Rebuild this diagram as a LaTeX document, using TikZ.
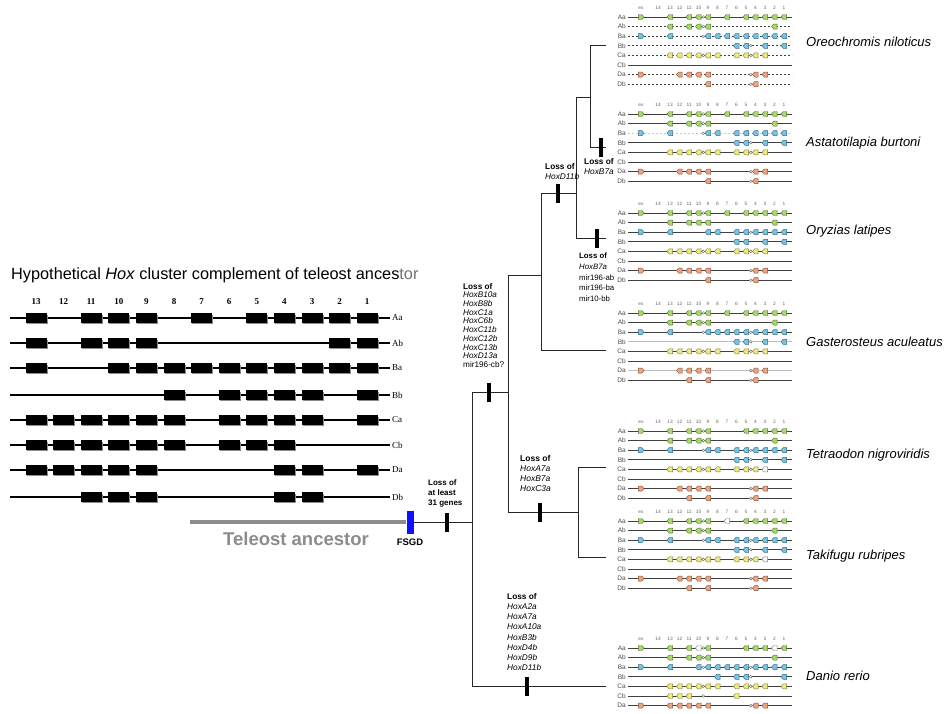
\documentclass[tikz,border=0pt]{standalone}
\usepackage{fontspec}
\setmainfont{Liberation Sans}
\newfontfamily\serifbox{Liberation Serif}
\usetikzlibrary{positioning}

\definecolor{hoxA}{HTML}{A6D86A}
\definecolor{hoxB}{HTML}{74C4E6}
\definecolor{hoxC}{HTML}{EEEA7C}
\definecolor{hoxD}{HTML}{EFA27E}
\definecolor{fsgdblue}{HTML}{1010FF}

\tikzset{
  tree/.style={draw=black!85, line width=0.9pt},
  lossbar/.style={fill=black, minimum width=4.6pt, minimum height=19pt, inner sep=0pt},
  losslab/.style={align=left, anchor=north west, inner sep=0pt, font=\fontsize{8.5}{10}\selectfont},
  species/.style={anchor=west, inner sep=0pt, font=\fontsize{13}{15}\selectfont\itshape},
  ancnum/.style={inner sep=0pt, font=\serifbox\bfseries\fontsize{9}{10}\selectfont},
  anclab/.style={anchor=west, inner sep=0pt, font=\serifbox\fontsize{9}{10}\selectfont},
  ancline/.style={draw=black, line width=1.1pt},
  rowlab/.style={anchor=east, inner sep=0pt, text=black!70, font=\fontsize{6.5}{7}\selectfont},
  colnum/.style={inner sep=0pt, text=black!60, font=\fontsize{4.8}{5}\selectfont},
  hoxline/.style={draw=black!75, line width=0.7pt},
  hoxdash/.style={hoxline, dash pattern=on 2.4pt off 1.6pt},
  hoxfaint/.style={draw=black!25, line width=0.7pt},
  hoxpale/.style={draw=hoxB!70, line width=0.7pt, dash pattern=on 2.4pt off 1.6pt}
}

\pgfmathdeclarefunction{colx}{1}{\pgfmathparse{(#1>14.5) ? 641 : ((#1>13.5) ? 658 : 670+(13-#1)*9.5)}}
\pgfmathdeclarefunction{ancx}{1}{\pgfmathparse{36+(13-#1)*27.6}}

% column numbers of one species panel
\newcommand{\hoxnums}[1]{\def\pbase{#1}%
  \foreach \c/\t in {15/ex,14/14,13/13,12/12,11/11,10/10,9/9,8/8,7/7,6/6,5/5,4/4,3/3,2/2,1/1}
    \node[colnum] at ({colx(\c)},{#1-9}) {\t};}

% gene arrow (exon 'ex' points the other way)
\newcommand{\hoxgene}[4]{% x, y, fill, draw
  \pgfmathsetmacro\gd{(#1>14.5) ? -1 : 1}%
  \pgfmathsetmacro\gx{colx(#1)}%
  \filldraw[fill=#3, draw=#4, line width=0.45pt] (\gx-3*\gd,#2) -- (\gx-0.9*\gd,#2-2.5) -- (\gx+2.6*\gd,#2-2.5) -- (\gx+2.6*\gd,#2+2.5) -- (\gx-0.9*\gd,#2+2.5) -- cycle;}

% one cluster row: index, label, line style, colour, genes, microRNAs
\newcommand{\hoxrow}[6]{%
  \pgfmathsetmacro\ry{\pbase+#1*9.6}%
  \node[rowlab] at (626,\ry) {#2};
  \draw[#3] (628,\ry) -- (792,\ry);
  \def\hoxlist{#5}\ifx\hoxlist\empty\else
    \foreach \g in {#5}{\hoxgene{\g}{\ry}{#4}{#4!55!black}}%
  \fi
  \def\hoxlist{#6}\ifx\hoxlist\empty\else
    \foreach \m in {#6}{\pgfmathsetmacro\mx{colx(\m)}%
      \filldraw[fill=white, draw=black!60, line width=0.4pt] (\mx,\ry) circle (1.4pt);}%
  \fi}

% lost genes drawn white
\newcommand{\hoxlost}[2]{%
  \pgfmathsetmacro\ry{\pbase+#1*9.6}%
  \foreach \g in {#2}{\hoxgene{\g}{\ry}{white}{black!50}}}

% ancestral cluster row: y, label, genes
\newcommand{\ancrow}[3]{%
  \draw[ancline] (10,#1) -- (390,#1);
  \node[anclab] (anc#2) at (392,#1) {#2};
  \foreach \g in {#3}{\pgfmathsetmacro\bx{ancx(\g)}%
    \fill[black!45] (\bx-9.5,#1-3.5) rectangle (\bx+11.5,#1+6);
    \fill[black] (\bx-10.5,#1-5) rectangle (\bx+10.5,#1+5);}}

\begin{document}
\begin{tikzpicture}[x=1pt,y=-1pt]
\useasboundingbox (0,0) rectangle (945,713);
\fill[white] (0,0) rectangle (945,713);

% ancestral complement
\node[anchor=west, inner sep=0pt, font=\fontsize{16.3}{18}\selectfont] (title) at (11,275)
  {Hypothetical \textit{Hox} cluster complement of teleost ances\textcolor{black!55}{tor}};
\foreach \g in {1,...,13} \node[ancnum] (num\g) at ({ancx(\g)},302) {\g};
\ancrow{318}{Aa}{13,11,10,9,7,5,4,3,2,1}
\ancrow{343}{Ab}{13,11,10,9,2,1}
\ancrow{368}{Ba}{13,10,9,8,7,6,5,4,3,2,1}
\ancrow{395}{Bb}{8,6,5,4,3,1}
\ancrow{420}{Ca}{13,12,11,10,9,8,6,5,4,3,1}
\ancrow{445}{Cb}{13,12,11,10,9,8,6,5,4}
\ancrow{470}{Da}{13,12,11,10,9,4,3,1}
\ancrow{497}{Db}{11,10,9,4,3}

% teleost stem
\coordinate (anc) at (190,522);
\node[fill=fsgdblue, minimum width=7pt, minimum height=23pt, inner sep=0pt] (fsgd) at (410,522) {};
\draw[draw=black!45, line width=4.5pt] (anc) -- (fsgd.west);
\node[text=black!45, font=\bfseries\fontsize{18.5}{20}\selectfont] (tel) at (296,539) {Teleost ancestor};
\node[below=5pt of fsgd, inner sep=0pt, font=\bfseries\fontsize{9.5}{10}\selectfont] (fsgdlab) {FSGD};

% tree
\coordinate (root) at (472,522);
\coordinate (rootT) at (472,392);
\coordinate (rootB) at (472,686);
\coordinate (perc) at (508,392);
\coordinate (percT) at (508,275);
\coordinate (percB) at (508,512);
\coordinate (smeg) at (541,275);
\coordinate (smegT) at (541,193);
\coordinate (smegB) at (541,350);
\coordinate (atho) at (576,193);
\coordinate (athoT) at (576,97);
\coordinate (athoB) at (576,238);
\coordinate (cich) at (590,97);
\coordinate (cichT) at (590,45);
\coordinate (cichB) at (590,147);
\coordinate (tetr) at (578,512);
\coordinate (tetrT) at (578,467);
\coordinate (tetrB) at (578,557);
\coordinate (leafOn) at (606,45);
\coordinate (leafAb) at (606,147);
\coordinate (leafOl) at (606,238);
\coordinate (leafGa) at (606,350);
\coordinate (leafTn) at (606,467);
\coordinate (leafTr) at (606,557);
\coordinate (leafDr) at (606,686);

\draw[tree] (fsgd.east) -- (root);
\draw[tree] (rootT) -- (rootB);
\draw[tree] (rootT) -- (perc);
\draw[tree] (rootB) -- (leafDr);
\draw[tree] (percT) -- (percB);
\draw[tree] (percT) -- (smeg);
\draw[tree] (percB) -- (tetr);
\draw[tree] (smegT) -- (smegB);
\draw[tree] (smegT) -- (atho);
\draw[tree] (smegB) -- (leafGa);
\draw[tree] (athoT) -- (athoB);
\draw[tree] (athoT) -- (cich);
\draw[tree] (athoB) -- (leafOl);
\draw[tree] (cichT) -- (cichB);
\draw[tree] (cichT) -- (leafOn);
\draw[tree] (cichB) -- (leafAb);
\draw[tree] (tetrT) -- (tetrB);
\draw[tree] (tetrT) -- (leafTn);
\draw[tree] (tetrB) -- (leafTr);

% gene losses
\node[lossbar] (bar31) at (447,522) {};
\node[lossbar] (barPerc) at (489,392) {};
\node[lossbar] (barDr) at (527,686) {};
\node[lossbar] (barTetr) at (540,512) {};
\node[lossbar] (barSmeg) at (558,193) {};
\node[lossbar] (barAb) at (601,147) {};
\node[lossbar] (barOl) at (597,238) {};

\node[losslab, font=\bfseries\fontsize{8}{10}\selectfont] (loss31) at (428,479) {Loss of\\at least\\31 genes};
\node[losslab, font=\fontsize{8.2}{8.7}\selectfont] (lossPerc) at (463,283)
  {\textbf{Loss of}\\\textit{HoxB10a}\\\textit{HoxB8b}\\\textit{HoxC1a}\\\textit{HoxC6b}\\\textit{HoxC11b}\\\textit{HoxC12b}\\\textit{HoxC13b}\\\textit{HoxD13a}\\mir196-cb?};
\node[losslab] (lossTetr) at (520,455) {\textbf{Loss of}\\\textit{HoxA7a}\\\textit{HoxB7a}\\\textit{HoxC3a}};
\node[losslab, font=\fontsize{8.3}{10.2}\selectfont] (lossDr) at (507,593)
  {\textbf{Loss of}\\\textit{HoxA2a}\\\textit{HoxA7a}\\\textit{HoxA10a}\\\textit{HoxB3b}\\\textit{HoxD4b}\\\textit{HoxD9b}\\\textit{HoxD11b}};
\node[losslab, font=\fontsize{8.3}{10.5}\selectfont] (lossSmeg) at (545,163) {\textbf{Loss of}\\\textit{HoxD11b}};
\node[losslab, font=\fontsize{8.3}{10.5}\selectfont] (lossAb) at (584,158) {\textbf{Loss of}\\\textit{HoxB7a}};
\node[losslab, font=\fontsize{7.8}{10.7}\selectfont] (lossOl) at (579,253)
  {\textbf{Loss of}\\\textit{HoxB7a}\\mir196-ab\\mir196-ba\\mir10-bb};

% species
\node[species] (spOn) at (806,42) {Oreochromis niloticus};
\node[species] (spAb) at (806,143) {Astatotilapia burtoni};
\node[species] (spOl) at (806,231) {Oryzias latipes};
\node[species] (spGa) at (806,342) {Gasterosteus aculeatus};
\node[species] (spTn) at (806,455) {Tetraodon nigroviridis};
\node[species] (spTr) at (806,556) {Takifugu rubripes};
\node[species] (spDr) at (806,676) {Danio rerio};

% Oreochromis niloticus
\hoxnums{17}
\hoxrow{0}{Aa}{hoxline}{hoxA}{15,13,11,10,9,7,5,4,3,2,1}{9.5}
\hoxrow{1}{Ab}{hoxdash}{hoxA}{13,11,10,9,2}{9.5}
\hoxrow{2}{Ba}{hoxdash}{hoxB}{15,13,9,8,7,6,5,4,3,2,1}{9.5}
\hoxrow{3}{Bb}{hoxdash}{hoxB}{6,5,3,1}{4.5}
\hoxrow{4}{Ca}{hoxdash}{hoxC}{13,12,11,10,9,8,6,5,4,3}{9.5,4.5}
\hoxrow{5}{Cb}{hoxline}{hoxC}{}{}
\hoxrow{6}{Da}{hoxdash}{hoxD}{15,12,11,10,9,4,3}{4.5}
\hoxrow{7}{Db}{hoxdash}{hoxD}{9,4}{4.5}

% Astatotilapia burtoni
\hoxnums{114}
\hoxrow{0}{Aa}{hoxline}{hoxA}{15,13,11,10,9,7,5,4,3,2,1}{9.5}
\hoxrow{1}{Ab}{hoxline}{hoxA}{13,11,10,9,2}{9.5}
\hoxrow{2}{Ba}{hoxpale}{hoxB}{15,13,9,8,6,5,4,3,2,1}{9.5}
\hoxrow{3}{Bb}{hoxline}{hoxB}{6,5,3,1}{4.5}
\hoxrow{4}{Ca}{hoxline}{hoxC}{13,12,11,10,9,8,6,5,4,3}{9.5,4.5}
\hoxrow{5}{Cb}{hoxline}{hoxC}{}{}
\hoxrow{6}{Da}{hoxline}{hoxD}{15,12,11,10,9,4,3}{4.5}
\hoxrow{7}{Db}{hoxline}{hoxD}{9,4}{4.5}

% Oryzias latipes
\hoxnums{213}
\hoxrow{0}{Aa}{hoxline}{hoxA}{15,13,11,10,9,7,5,4,3,2,1}{9.5}
\hoxrow{1}{Ab}{hoxline}{hoxA}{13,11,10,9,2}{}
\hoxrow{2}{Ba}{hoxline}{hoxB}{15,13,9,8,6,5,4,3,2,1}{4.5}
\hoxrow{3}{Bb}{hoxline}{hoxB}{6,5,3,1}{}
\hoxrow{4}{Ca}{hoxline}{hoxC}{13,12,11,10,9,8,6,5,4,3}{9.5,4.5}
\hoxrow{5}{Cb}{hoxline}{hoxC}{}{}
\hoxrow{6}{Da}{hoxline}{hoxD}{15,12,11,10,9,4,3}{4.5}
\hoxrow{7}{Db}{hoxline}{hoxD}{9,4}{4.5}

% Gasterosteus aculeatus
\hoxnums{313}
\hoxrow{0}{Aa}{hoxline}{hoxA}{15,13,11,10,9,7,5,4,3,2,1}{9.5}
\hoxrow{1}{Ab}{hoxline}{hoxA}{13,11,10,9,2}{9.5}
\hoxrow{2}{Ba}{hoxline}{hoxB}{15,13,9,8,7,6,5,4,3,2,1}{9.5,4.5}
\hoxrow{3}{Bb}{hoxfaint}{hoxB}{6,5,3,1}{4.5}
\hoxrow{4}{Ca}{hoxline}{hoxC}{13,12,11,10,9,8,6,5,4,3}{9.5,4.5}
\hoxrow{5}{Cb}{hoxline}{hoxC}{}{}
\hoxrow{6}{Da}{hoxfaint}{hoxD}{15,12,11,10,9,4,3}{4.5}
\hoxrow{7}{Db}{hoxline}{hoxD}{11,9,4}{4.5}

% Tetraodon nigroviridis
\hoxnums{431}
\hoxrow{0}{Aa}{hoxline}{hoxA}{15,13,11,10,9,5,4,3,2,1}{9.5}
\hoxrow{1}{Ab}{hoxline}{hoxA}{13,11,10,9,2}{9.5}
\hoxrow{2}{Ba}{hoxline}{hoxB}{15,13,9,8,6,5,4,3,2,1}{9.5,4.5}
\hoxrow{3}{Bb}{hoxline}{hoxB}{6,5,3,1}{4.5}
\hoxrow{4}{Ca}{hoxline}{hoxC}{13,12,11,10,9,8,6,5,4}{9.5,4.5}
\hoxlost{4}{3}
\hoxrow{5}{Cb}{hoxline}{hoxC}{}{}
\hoxrow{6}{Da}{hoxline}{hoxD}{15,12,11,10,9,4,3}{4.5}
\hoxrow{7}{Db}{hoxline}{hoxD}{11,9,4}{4.5}

% Takifugu rubripes
\hoxnums{521}
\hoxrow{0}{Aa}{hoxline}{hoxA}{15,13,11,10,9,5,4,3,2,1}{9.5}
\hoxlost{0}{7}
\hoxrow{1}{Ab}{hoxline}{hoxA}{13,11,10,9,2}{9.5}
\hoxrow{2}{Ba}{hoxline}{hoxB}{15,13,9,8,6,5,4,3,2,1}{9.5,4.5}
\hoxrow{3}{Bb}{hoxline}{hoxB}{6,5,3,1}{4.5}
\hoxrow{4}{Ca}{hoxline}{hoxC}{13,12,11,10,9,8,6,5,4}{9.5,4.5}
\hoxlost{4}{3}
\hoxrow{5}{Cb}{hoxline}{hoxC}{}{}
\hoxrow{6}{Da}{hoxline}{hoxD}{15,12,11,10,9,4,3}{4.5}
\hoxrow{7}{Db}{hoxline}{hoxD}{11,9,4}{4.5}

% Danio rerio
\hoxnums{648}
\hoxrow{0}{Aa}{hoxline}{hoxA}{15,13,11,9,5,4,3,1}{9.5}
\hoxlost{0}{10,2}
\hoxrow{1}{Ab}{hoxline}{hoxA}{13,11,10,9,2}{9.5}
\hoxrow{2}{Ba}{hoxline}{hoxB}{15,13,10,9,8,7,6,5,4,3,2,1}{9.5,4.5}
\hoxrow{3}{Bb}{hoxline}{hoxB}{8,6,5,1}{4.5}
\hoxrow{4}{Ca}{hoxline}{hoxC}{13,12,11,10,9,8,6,5,4,3,1}{9.5,4.5}
\hoxrow{5}{Cb}{hoxline}{hoxC}{13,12,11,6}{9.5}
\hoxrow{6}{Da}{hoxline}{hoxD}{15,13,12,11,10,9,4,3}{4.5}
\end{tikzpicture}
\end{document}
